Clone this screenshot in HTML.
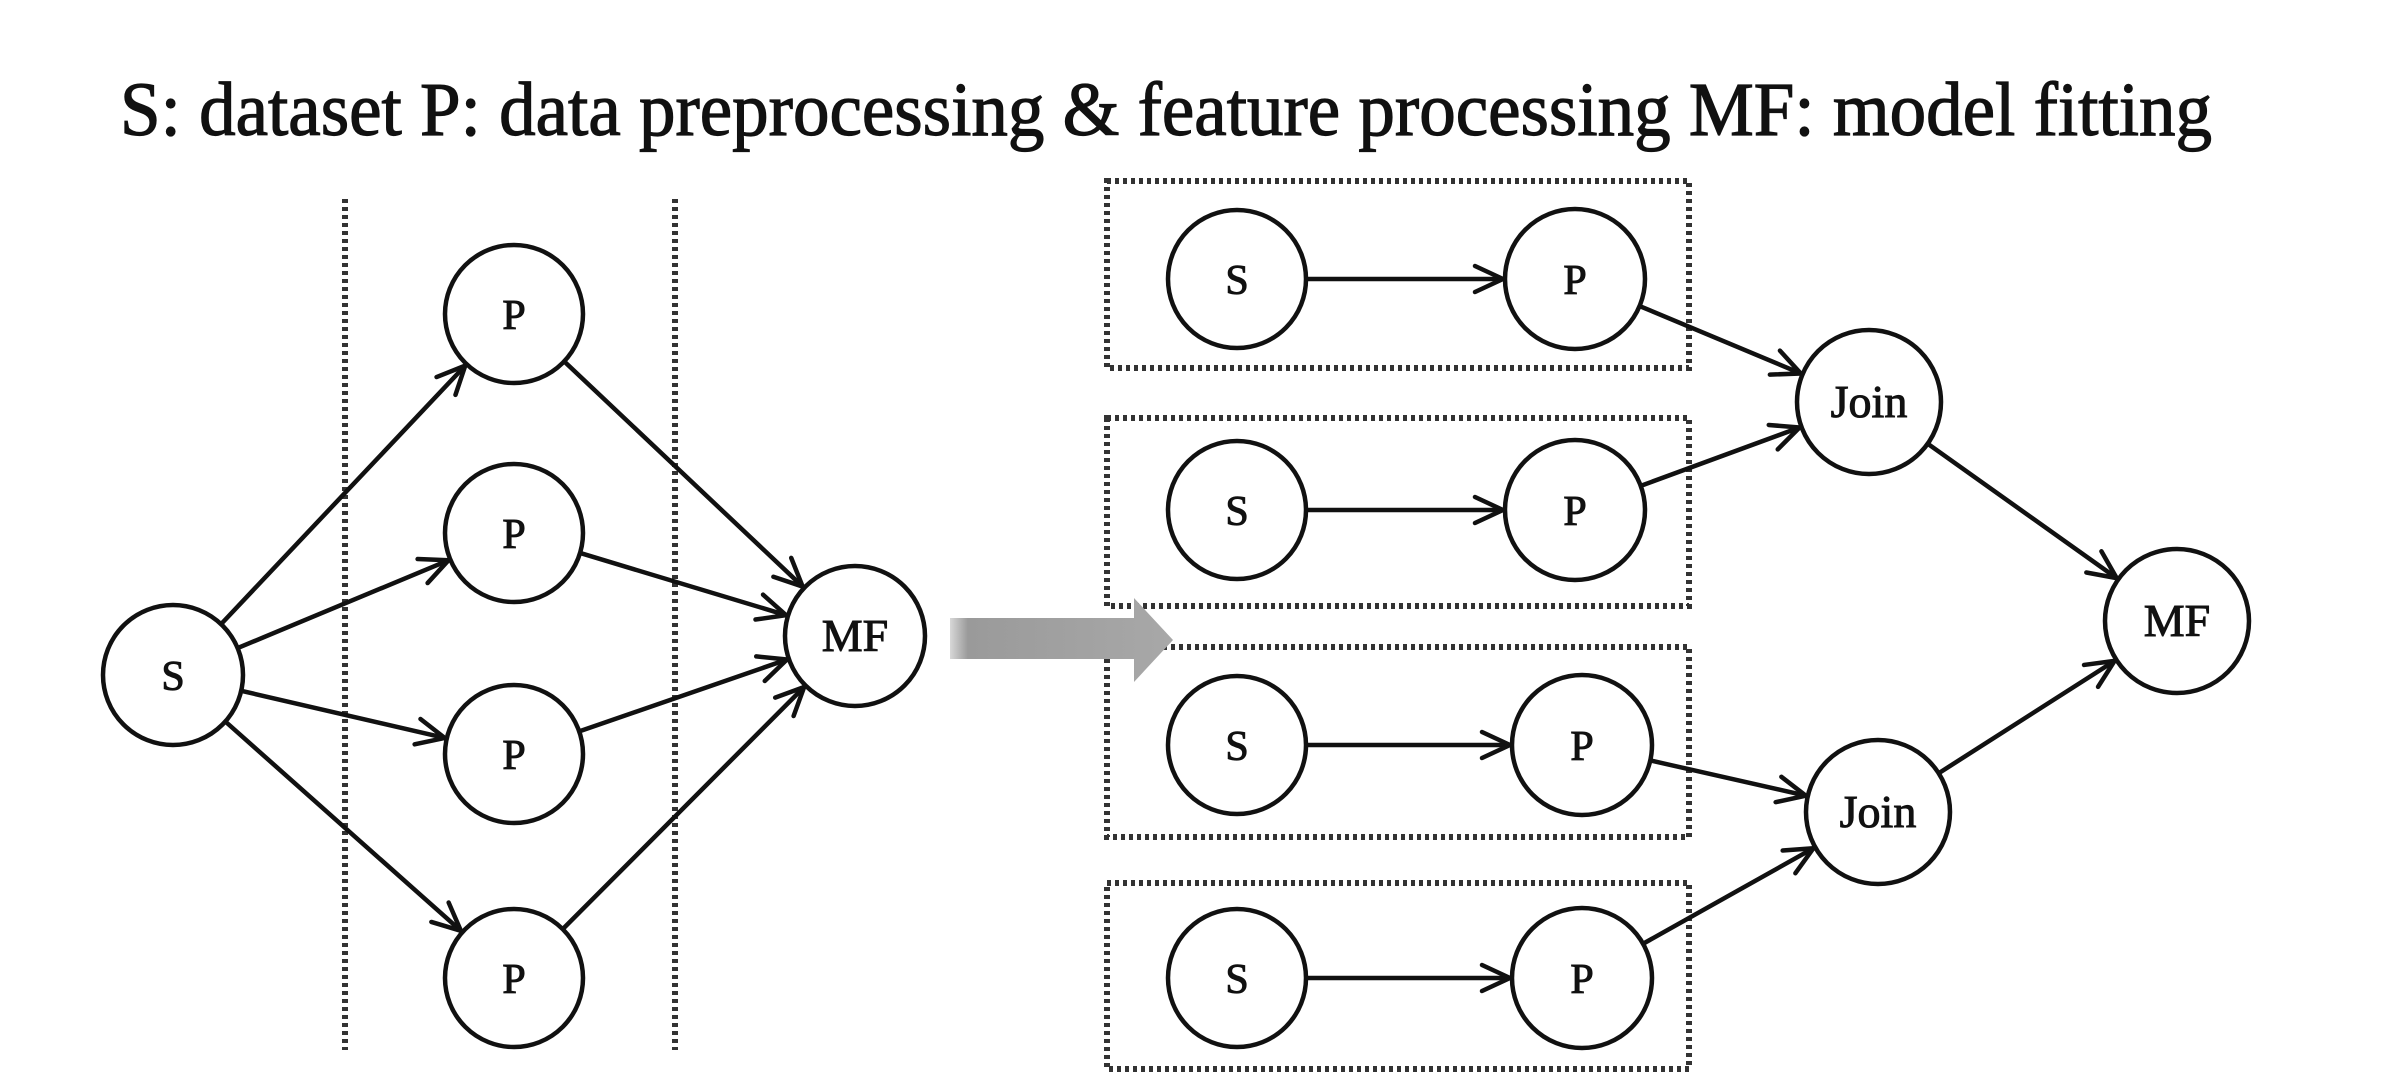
<!DOCTYPE html>
<html><head><meta charset="utf-8">
<style>
html,body{margin:0;padding:0;background:#fff;}
svg{display:block;}
text{font-family:"Liberation Serif",serif;fill:#111;}
</style></head>
<body>
<svg id="s" width="2392" height="1085" viewBox="0 0 2392 1085" xmlns="http://www.w3.org/2000/svg">
<defs>
<linearGradient id="g" x1="0" x2="1" y1="0" y2="0">
<stop offset="0" stop-color="#d8d8d8"/><stop offset="0.08" stop-color="#9a9a9a"/><stop offset="1" stop-color="#a8a8a8"/>
</linearGradient>
</defs>
<text x="120" y="135" font-size="76" textLength="2092" lengthAdjust="spacingAndGlyphs" stroke="#111" stroke-width="1.2">S: dataset P: data preprocessing &amp; feature processing MF: model fitting</text>
<g stroke="#333" stroke-width="6" stroke-dasharray="4,4" fill="none">
<line x1="345" y1="199" x2="345" y2="1050"/>
<line x1="675" y1="199" x2="675" y2="1050"/>
<rect x="1107" y="181" width="582" height="187"/>
<rect x="1107" y="418" width="582" height="188"/>
<rect x="1107" y="647" width="582" height="190"/>
<rect x="1107" y="883" width="582" height="186"/>
</g>
<polygon points="950,618 1134,618 1134,598 1173,640 1134,682 1134,659 950,659" fill="url(#g)"/>
<g id="edges" stroke="#111" stroke-width="4.5" fill="none" stroke-linecap="round" stroke-linejoin="round"></g>
<g id="nodes" stroke="#111" stroke-width="4.5" fill="#fff"></g>
<g id="labels" text-anchor="middle" stroke="#111" stroke-width="1"></g>
</svg>
<script>
var N={
S0:[173,675,70,'S'],L1:[514,314,69,'P'],L2:[514,533,69,'P'],L3:[514,754,69,'P'],L4:[514,978,69,'P'],M0:[855,636,70,'MF'],
A1:[1237,279,69,'S'],A2:[1237,510,69,'S'],A3:[1237,745,69,'S'],A4:[1237,978,69,'S'],
B1:[1575,279,70,'P'],B2:[1575,510,70,'P'],B3:[1582,745,70,'P'],B4:[1582,978,70,'P'],
J1:[1869,402,72,'Join'],J2:[1878,812,72,'Join'],M1:[2177,621,72,'MF']};
var E=[['S0','L1'],['S0','L2'],['S0','L3'],['S0','L4'],['L1','M0'],['L2','M0'],['L3','M0'],['L4','M0'],
['A1','B1'],['A2','B2'],['A3','B3'],['A4','B4'],['B1','J1'],['B2','J1'],['B3','J2'],['B4','J2'],['J1','M1'],['J2','M1']];
var ns='http://www.w3.org/2000/svg';
function el(t,a,p){var e=document.createElementNS(ns,t);for(var k in a)e.setAttribute(k,a[k]);p.appendChild(e);return e;}
var eg=document.getElementById('edges'),ng=document.getElementById('nodes'),lg=document.getElementById('labels');
E.forEach(function(e){var a=N[e[0]],b=N[e[1]];var dx=b[0]-a[0],dy=b[1]-a[1],d=Math.hypot(dx,dy),ux=dx/d,uy=dy/d;
var x1=a[0]+ux*a[2],y1=a[1]+uy*a[2],x2=b[0]-ux*(b[2]+2),y2=b[1]-uy*(b[2]+2);
el('line',{x1:x1,y1:y1,x2:x2,y2:y2},eg);
var L=28,W=13,bx=x2-ux*L,by=y2-uy*L;
el('polyline',{points:(bx-uy*W)+','+(by+ux*W)+' '+x2+','+y2+' '+(bx+uy*W)+','+(by-ux*W)},eg);});
for(var k in N){var n=N[k];el('circle',{cx:n[0],cy:n[1],r:n[2]},ng);
var t=el('text',{x:n[0],y:n[1]+15,'font-size':n[3]=='Join'?46:(n[3]=='MF'?46:42)},lg);t.textContent=n[3];}
</script>
</body></html>
